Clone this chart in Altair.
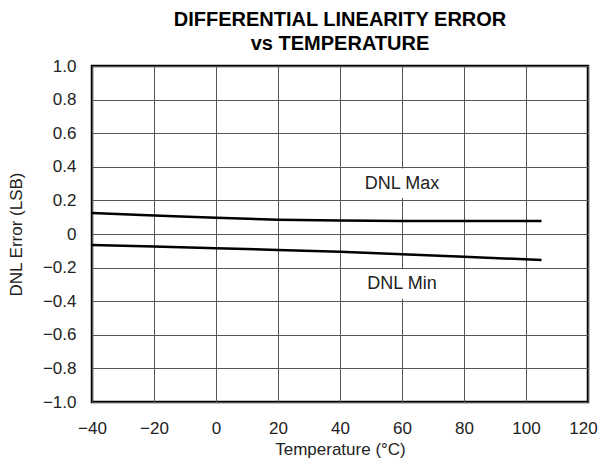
import altair as alt
import pandas as pd

temps = [-40, -20, 0, 20, 40, 60, 80, 105]
dnl_max = [0.125, 0.11, 0.097, 0.085, 0.08, 0.078, 0.078, 0.078]
dnl_min = [-0.065, -0.075, -0.085, -0.095, -0.105, -0.12, -0.135, -0.155]

label_text = ["DNL Max", "DNL Min"]
label_x = [60, 60]
label_y = [0.30, -0.30]
gap_lo = [0.215, -0.385]
gap_hi = [0.39, -0.21]

x_ticks = [-40, -20, 0, 20, 40, 60, 80, 100, 120]
y_ticks = [-1.0, -0.8, -0.6, -0.4, -0.2, 0, 0.2, 0.4, 0.6, 0.8, 1.0]

FONT = "Liberation Sans"

rows = []
for t, v in zip(temps, dnl_max):
    rows.append({"T": t, "v": v, "s": "max"})
for t, v in zip(temps, dnl_min):
    rows.append({"T": t, "v": v, "s": "min"})
df = pd.DataFrame(rows)
lab = pd.DataFrame({"txt": label_text, "x": label_x, "y": label_y,
                    "x1": [x - 4 for x in label_x], "x2": [x + 4 for x in label_x],
                    "lo": gap_lo, "hi": gap_hi})

xscale = alt.Scale(domain=[-40, 120], nice=False, zero=False)
yscale = alt.Scale(domain=[-1.0, 1.0], nice=False, zero=False)

xaxis = alt.Axis(values=x_ticks, tickCount=len(x_ticks), title="Temperature (°C)",
                 labelFlush=False, labelOverlap=False,
                 labelOffset={"condition": {"test": "datum.value == 120", "value": -5}, "value": 0},
                 labelExpr="replace(format(datum.value, 'd'), '-', '–')")
yaxis = alt.Axis(values=y_ticks, tickCount=len(y_ticks), title="DNL Error (LSB)",
                 labelOverlap=False, labelFlush=False,
                 labelExpr="datum.value == 0 ? '0' : replace(format(datum.value, '.1f'), '-', '–')")

lines = alt.Chart(df).mark_line(color="black", strokeWidth=2.5).encode(
    x=alt.X("T:Q", scale=xscale, axis=xaxis),
    y=alt.Y("v:Q", scale=yscale, axis=yaxis),
    detail="s:N",
)

gaps = alt.Chart(lab).mark_rect(color="white").encode(
    x=alt.X("x1:Q", scale=xscale), x2="x2:Q",
    y=alt.Y("lo:Q", scale=yscale), y2="hi:Q",
)

texts = alt.Chart(lab).mark_text(font=FONT, fontSize=18, color="#222").encode(
    x=alt.X("x:Q", scale=xscale), y=alt.Y("y:Q", scale=yscale), text="txt:N"
)

chart = alt.layer(gaps, lines, texts).properties(
    width=496, height=336,
    title=alt.TitleParams(["DIFFERENTIAL LINEARITY ERROR", "vs TEMPERATURE"],
                          font=FONT, fontSize=20, fontWeight="bold", color="black",
                          anchor="middle", offset=3, lineHeight=24),
    autosize=alt.AutoSizeParams(type="none"),
    padding={"left": 84, "top": 58, "right": 10, "bottom": 62},
).configure_view(stroke="black", strokeWidth=2.5).configure_axis(
    grid=True, gridColor="#555", gridWidth=1, gridOpacity=1,
    domain=False, ticks=False,
    labelFont=FONT, labelFontSize=17, labelColor="#222", labelPadding=16,
    titleFont=FONT, titleFontSize=17, titleColor="#222", titleFontWeight="normal",
).configure_axisX(labelPadding=18, titlePadding=5).configure_axisY(titlePadding=17)

chart.save("out.html", embed_options={"renderer": "svg", "actions": False})
